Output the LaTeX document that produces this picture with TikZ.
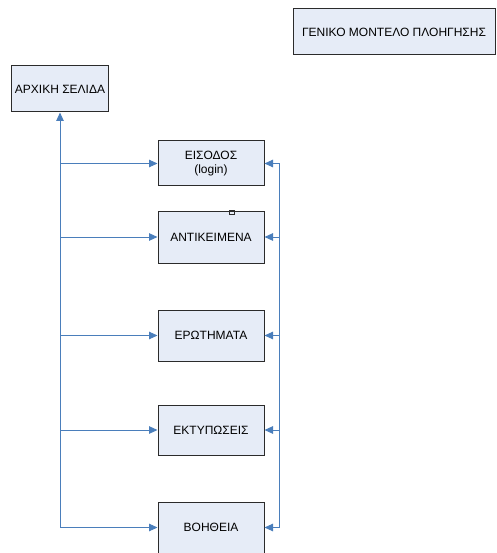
\documentclass[tikz,border=0pt]{standalone}
\usepackage{fontspec}
\setmainfont{Liberation Sans}
\usepackage{xcolor}
\definecolor{boxfill}{HTML}{E6ECF7}
\definecolor{boxline}{HTML}{2B2B2B}
\definecolor{linkblue}{HTML}{4A7EBB}
\usepackage{tikz}
\usetikzlibrary{arrows.meta,positioning,calc}

\begin{document}
\begin{tikzpicture}[
  x=1pt, y=-1pt,
  box/.style={draw=boxline,line width=1pt,fill=boxfill,align=center,inner sep=0pt,
    minimum width=106pt,minimum height=50pt,font=\fontsize{12}{14}\selectfont},
  link/.style={draw=linkblue,line width=1pt},
  arr/.style={link,-{Triangle[length=8.5pt,width=7.5pt]}}]
\useasboundingbox (0,0) rectangle (496,553);
% header and start page
\node[box,minimum width=202pt,minimum height=46pt] (title) at (394,32) {ΓΕΝΙΚΟ ΜΟΝΤΕΛΟ ΠΛΟΗΓΗΣΗΣ};
\node[box,minimum width=97pt,minimum height=46pt] (home) at (60,89) {ΑΡΧΙΚΗ ΣΕΛΙΔΑ};
% menu pages
\node[box,minimum height=45pt] (login) at (211,163.5) {ΕΙΣΟΔΟΣ\\(login)};
\node[box,minimum height=52pt] (objects) at (211,237) {ΑΝΤΙΚΕΙΜΕΝΑ};
\node[box,minimum height=51pt] (queries) at (211,335.5) {ΕΡΩΤΗΜΑΤΑ};
\node[box] (reports) at (211,430) {ΕΚΤΥΠΩΣΕΙΣ};
\node[box,minimum height=51pt] (help) at (211,527.5) {ΒΟΗΘΕΙΑ};
\draw[draw=boxline,line width=0.8pt] ([xshift=18pt]objects.north) rectangle ++(5,4);
% left bus back to the start page
\draw[arr] (help.west -| home.south) -- (home.south);
\foreach \page in {login,objects,queries,reports,help}
  \draw[arr] (\page.west -| home.south) -- (\page.west);
% right bus
\coordinate (busR) at (279,0);
\draw[link] (login.east -| busR) -- (help.east -| busR);
\foreach \page in {login,objects,queries,reports,help}
  \draw[arr] (\page.east -| busR) -- (\page.east);
\end{tikzpicture}
\end{document}
